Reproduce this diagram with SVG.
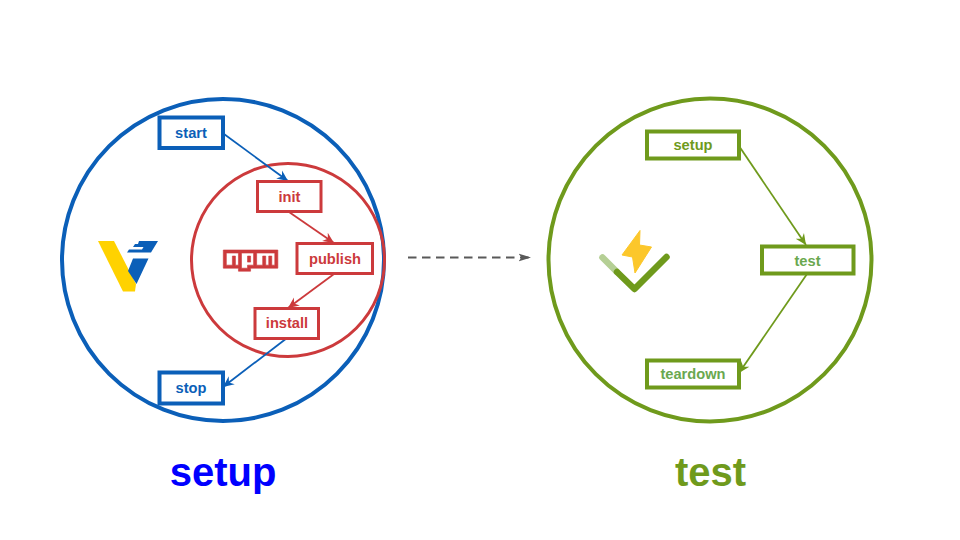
<svg xmlns="http://www.w3.org/2000/svg" width="960" height="540" viewBox="0 0 960 540">
<defs>
<marker id="ab" viewBox="0 0 12 12" refX="11" refY="6" markerWidth="12" markerHeight="12" markerUnits="userSpaceOnUse" orient="auto"><path d="M0 1L11 6L0 11L3.500 6Z" fill="#0b5fb8"/></marker>
<marker id="ar" viewBox="0 0 12 12" refX="11" refY="6" markerWidth="12" markerHeight="12" markerUnits="userSpaceOnUse" orient="auto"><path d="M0 1L11 6L0 11L3.500 6Z" fill="#cc3a3c"/></marker>
<marker id="ag" viewBox="0 0 12 12" refX="11" refY="6" markerWidth="12" markerHeight="12" markerUnits="userSpaceOnUse" orient="auto"><path d="M0 1L11 6L0 11L3.500 6Z" fill="#6f9a1c"/></marker>
<marker id="ak" viewBox="0 0 13 12" refX="12.500" refY="6" markerWidth="13" markerHeight="12" markerUnits="userSpaceOnUse" orient="auto"><path d="M0 2L12.500 6L0 10L3 6Z" fill="#595959"/></marker>
</defs>
<style>
text{font-family:"Liberation Sans",Arial,sans-serif;font-weight:700;text-anchor:middle}
.l{font-size:14.670px}
.b rect,.r rect,.g rect{fill:none}
.b rect{stroke:#0b5fb8;stroke-width:4}
.b text{fill:#0b5fb8}
.r rect{stroke:#cc3a3c;stroke-width:3}
.r text{fill:#cc3a3c}
.g rect{stroke:#6f9a1c;stroke-width:4}
.g text{fill:#6aa84f}
.g .o{fill:#6f9a1c}
</style>
<rect width="960" height="540" fill="#fff"/>
<g id="setup-circle"><circle cx="223" cy="260" r="161" fill="none" stroke="#0b5fb8" stroke-width="4"/></g>
<g id="npm-circle"><circle cx="288" cy="260" r="96.500" fill="none" stroke="#cc3a3c" stroke-width="3"/></g>
<g id="test-circle"><circle cx="710" cy="260" r="161.500" fill="none" stroke="#6f9a1c" stroke-width="4"/></g>
<g id="connectors" fill="none" stroke-width="1.800">
<path d="M224 134L288 181" stroke="#0b5fb8" marker-end="url(#ab)"/>
<path d="M289 212L334 243" stroke="#cc3a3c" marker-end="url(#ar)"/>
<path d="M334 274L288 308" stroke="#cc3a3c" marker-end="url(#ar)"/>
<path d="M287 338L223 387" stroke="#0b5fb8" marker-end="url(#ab)"/>
<path d="M739 146L806 245" stroke="#6f9a1c" marker-end="url(#ag)"/>
<path d="M807 274L739 373" stroke="#6f9a1c" marker-end="url(#ag)"/>
<path d="M408 257.500H531" stroke="#595959" stroke-dasharray="8.500 5.500" marker-end="url(#ak)"/>
</g>
<g id="start" class="b"><rect x="159.500" y="117.500" width="63.500" height="30.500"/><text class="l" x="191" y="138">start</text></g>
<g id="init" class="r"><rect x="257.500" y="181.500" width="63.500" height="30"/><text class="l" x="289.500" y="202">init</text></g>
<g id="publish" class="r"><rect x="297" y="243.500" width="75.500" height="30"/><text class="l" x="335" y="263.500">publish</text></g>
<g id="install" class="r"><rect x="255" y="308.500" width="63.500" height="30"/><text class="l" x="287" y="328">install</text></g>
<g id="stop" class="b"><rect x="159.500" y="372.500" width="63.500" height="31"/><text class="l" x="191" y="393">stop</text></g>
<g id="vue-logo">
<path d="M98 241H114L136 284L135 291.500H123Z" fill="#ffd200"/>
<path d="M133 258.500H148.500L136.500 284L128 271Z" fill="#0b5fb8"/>
<path d="M139 241H158L151 252.500H127L129 249.500H142L143.500 247H133L135 244H138Z" fill="#0b5fb8"/>
</g>
<g id="npm-logo">
<path transform="translate(223.300 250) scale(3.030)" fill-rule="evenodd" stroke="#cc3a3c" stroke-width="0.200" d="M0 0H18V6H9V7H5V6H0ZM1 1V5H3V2H4V5H5V1ZM6 1V6H8V5H10V1ZM8 2H9V4H8ZM11 1V5H13V2H14V5H15V2H16V5H17V1Z" fill="#cc3a3c"/>
</g>
<g id="vitest-logo">
<path d="M602.500 257.500L617 272" fill="none" stroke="#b5cf95" stroke-width="6.500" stroke-linecap="round"/>
<path d="M617 272L634.500 289L666.500 257" fill="none" stroke="#6f9a1c" stroke-width="6.500" stroke-linecap="round" stroke-linejoin="round"/>
<path d="M640 230.500L622 255L632.500 257L635 273L651.500 247L639.500 245Z" fill="#fcc72b" stroke="#fcc72b" stroke-width="1" stroke-linejoin="round"/>
</g>
<g id="setup" class="g"><rect x="647" y="131.500" width="92" height="27"/><text class="l o" x="693" y="150">setup</text></g>
<g id="test" class="g"><rect x="762" y="246.500" width="91.500" height="27"/><text class="l" x="807.500" y="265.500">test</text></g>
<g id="teardown" class="g"><rect x="647" y="360.500" width="92" height="27"/><text class="l" x="693" y="379">teardown</text></g>
<g id="title-setup"><text x="223" y="485.500" font-size="40" fill="#0000ff">setup</text></g>
<g id="title-test"><text x="710.500" y="485.500" font-size="40" fill="#6f9a1c">test</text></g>
</svg>
